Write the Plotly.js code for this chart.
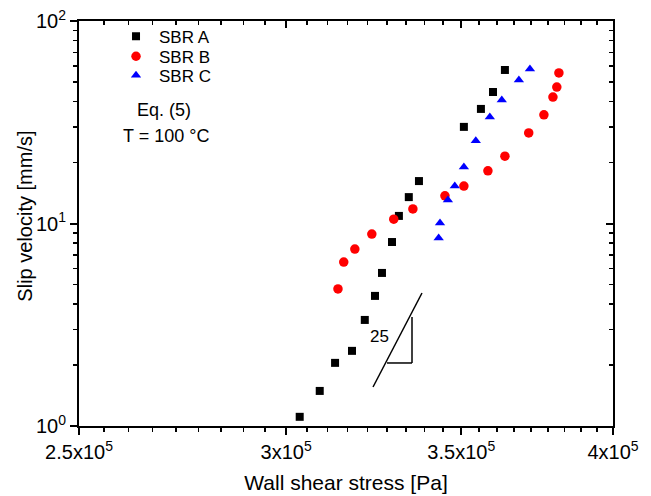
<!DOCTYPE html>
<html>
<head>
<meta charset="utf-8">
<script src="https://cdn.plot.ly/plotly-3.0.1.min.js"></script>
<style>html,body{margin:0;padding:0;background:#fff;}#chart{width:651px;height:496px;}</style>
</head>
<body>
<div id="chart"></div>
<script>
// Data (x: wall shear stress [Pa], y: slip velocity [mm/s])
var sbrA_x = [3.036e5, 3.090e5, 3.132e5, 3.179e5, 3.215e5, 3.244e5, 3.264e5, 3.293e5, 3.313e5, 3.342e5, 3.372e5, 3.508e5, 3.561e5, 3.599e5, 3.637e5];
var sbrA_y = [1.11, 1.49, 2.05, 2.35, 3.34, 4.39, 5.70, 8.10, 10.9, 13.5, 16.2, 30.0, 36.8, 44.6, 57.3];

var sbrB_x = [3.140e5, 3.156e5, 3.187e5, 3.235e5, 3.298e5, 3.354e5, 3.450e5, 3.508e5, 3.583e5, 3.637e5, 3.714e5, 3.764e5, 3.794e5, 3.807e5, 3.814e5];
var sbrB_y = [4.75, 6.45, 7.48, 8.87, 10.5, 11.8, 13.7, 15.3, 18.2, 21.5, 28.0, 34.4, 42.1, 47.2, 55.4];

var sbrC_x = [3.431e5, 3.435e5, 3.459e5, 3.480e5, 3.508e5, 3.545e5, 3.589e5, 3.627e5, 3.682e5, 3.718e5];
var sbrC_y = [8.48, 10.06, 13.06, 15.32, 19.0, 25.6, 33.6, 40.7, 51.1, 57.9];

var seriesNames = ["SBR A", "SBR B", "SBR C"];
var xTickVals = [2.5e5, 3e5, 3.5e5, 4e5];
var xTickText = ["2.5x10<sup>5</sup>", "3x10<sup>5</sup>", "3.5x10<sup>5</sup>", "4x10<sup>5</sup>"];
var yTickVals = [1, 10, 100];
var yTickText = ["10<sup>0</sup>", "10<sup>1</sup>", "10<sup>2</sup>"];

// minor tick positions (8 per major interval on x, 2..9 per decade on y)
var xMinor = [];
for (var i = 0; i < xTickVals.length - 1; i++) {
  var a = xTickVals[i], b = xTickVals[i + 1];
  for (var k = 1; k < 9; k++) xMinor.push(a + (b - a) * k / 9);
}
var yMinor = [];
[1, 10].forEach(function (d) { for (var m = 2; m <= 9; m++) yMinor.push(d * m); });

var FONT = "Liberation Sans, Arial, sans-serif";
var xr = [Math.log10(2.5e5), Math.log10(4e5)];
var yr = [0, 2];

var traces = [
  {x: sbrA_x, y: sbrA_y, name: seriesNames[0], mode: "markers", type: "scatter", legend: "legend",
   marker: {symbol: "square", size: 8, color: "#000000"}},
  {x: sbrB_x, y: sbrB_y, name: seriesNames[1], mode: "markers", type: "scatter", legend: "legend2",
   marker: {symbol: "circle", size: 9.5, color: "#ff0000"}},
  {x: sbrC_x, y: sbrC_y, name: seriesNames[2], mode: "markers", type: "scatter", legend: "legend3",
   marker: {symbol: "triangle-up", size: 9, color: "#0000ff"}},
  {x: [], y: [], xaxis: "x2", yaxis: "y2", showlegend: false, hoverinfo: "skip", type: "scatter", mode: "markers"}
];

var axBase = {type: "log", showgrid: false, zeroline: false, showline: true, linecolor: "#000", linewidth: 2,
  tickcolor: "#000", tickwidth: 2, ticklen: 7, tickfont: {family: FONT, size: 20, color: "#000"}};

function leg(y) {
  return {x: 0.0637, y: y, xanchor: "left", yanchor: "top", bgcolor: "rgba(0,0,0,0)", itemwidth: 36,
    font: {family: FONT, size: 17, color: "#000"}};
}

var layout = {
  width: 651, height: 496,
  margin: {l: 79, r: 38, t: 21, b: 70, pad: 0},
  paper_bgcolor: "#fff", plot_bgcolor: "#fff",
  font: {family: FONT, color: "#000"},
  showlegend: true,
  legend: leg(1.0057),
  legend2: leg(0.9563),
  legend3: leg(0.9094),
  xaxis: Object.assign({}, axBase, {range: xr, ticks: "outside", tickmode: "array", tickvals: xTickVals, ticktext: xTickText,
    minor: {tickmode: "array", tickvals: xMinor, ticks: "outside", ticklen: 4, tickwidth: 1.5, tickcolor: "#000"},
    title: {text: "Wall shear stress [Pa]", font: {family: FONT, size: 21, color: "#000"}, standoff: 13}}),
  yaxis: Object.assign({}, axBase, {range: yr, ticks: "outside", tickmode: "array", tickvals: yTickVals, ticktext: yTickText,
    minor: {tickmode: "array", tickvals: yMinor, ticks: "outside", ticklen: 4, tickwidth: 1.5, tickcolor: "#000"}}),
  xaxis2: Object.assign({}, axBase, {range: xr, overlaying: "x", side: "top", anchor: "y2", ticks: "inside",
    showticklabels: false, tickmode: "array", tickvals: xTickVals,
    minor: {tickmode: "array", tickvals: xMinor, ticks: "inside", ticklen: 4, tickwidth: 1.5, tickcolor: "#000"}}),
  yaxis2: Object.assign({}, axBase, {range: yr, overlaying: "y", side: "right", anchor: "x2", ticks: "inside",
    showticklabels: false, tickmode: "array", tickvals: yTickVals,
    minor: {tickmode: "array", tickvals: yMinor, ticks: "inside", ticklen: 4, tickwidth: 1.5, tickcolor: "#000"}}),
  shapes: [
    {type: "line", xref: "paper", yref: "paper", x0: 0.5506, y0: 0.0963, x1: 0.6423, y1: 0.3284, line: {color: "#000", width: 1.5}},
    {type: "line", xref: "paper", yref: "paper", x0: 0.6236, y0: 0.2691, x1: 0.6236, y1: 0.1556, line: {color: "#000", width: 1.5}},
    {type: "line", xref: "paper", yref: "paper", x0: 0.5768, y0: 0.1556, x1: 0.6236, y1: 0.1556, line: {color: "#000", width: 1.5}}
  ],
  annotations: [
    {text: "Slip velocity [mm/s]", xref: "paper", yref: "paper", x: -0.1011, y: 0.517, xanchor: "center", yanchor: "middle",
     textangle: -90, showarrow: false, font: {family: FONT, size: 20, color: "#000"}},
    {text: "25", xref: "paper", yref: "paper", x: 0.5618, y: 0.2222, xanchor: "center", yanchor: "middle", showarrow: false, font: {family: FONT, size: 17, color: "#000"}},
    {text: "Eq. (5)", xref: "paper", yref: "paper", x: 0.159, y: 0.780, xanchor: "center", yanchor: "middle", showarrow: false, font: {family: FONT, size: 18, color: "#000"}},
    {text: "T = 100 °C", xref: "paper", yref: "paper", x: 0.1625, y: 0.716, xanchor: "center", yanchor: "middle", showarrow: false, font: {family: FONT, size: 18, color: "#000"}}
  ]
};

Plotly.newPlot("chart", traces, layout, {displayModeBar: false, staticPlot: true});
</script>
</body>
</html>
